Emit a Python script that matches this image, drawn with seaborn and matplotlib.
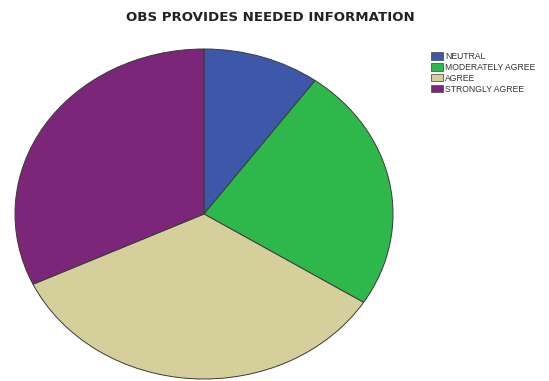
import matplotlib
matplotlib.use("Agg")
import matplotlib.pyplot as plt
import seaborn as sns
from matplotlib.patches import Patch

sns.set_style("white")
plt.rcParams['font.family'] = ['Liberation Sans', 'DejaVu Sans']

categories = ["NEUTRAL", "MODERATELY AGREE", "AGREE", "STRONGLY AGREE"]
counts = [5, 12, 17, 16]
colors = ["#3e58a9", "#2eb84b", "#d4cf9b", "#7b2678"]
title = "OBS PROVIDES NEEDED INFORMATION"

fig = plt.figure(figsize=(5.49, 3.81), dpi=100)
W, H = 549, 381
ax = fig.add_axes([15 / W, (H - 379) / H, 378 / W, 330 / H])
ax.pie(counts, colors=colors, startangle=90, counterclock=False,
       radius=1.0, wedgeprops=dict(edgecolor="#3a3a3a", linewidth=0.7))
ax.set_aspect("auto")
ax.set_xlim(-1.0, 1.0)
ax.set_ylim(-1.0, 1.0)
ax.axis("off")

fig.text(270 / W, 1 - 17.5 / H, title, ha="center", va="center",
         fontsize=9.6, fontweight="bold", color="#222222",
         family=["DejaVu Sans"])

handles = [Patch(facecolor=c, edgecolor="#555555", linewidth=0.6) for c in colors]
fig.legend(handles, categories, loc="upper left",
           bbox_to_anchor=(425 / W, 1 - 46 / H), frameon=False,
           fontsize=6.2, handlelength=1.4, handleheight=0.9,
           handletextpad=0.25, labelspacing=0.22, borderpad=0.2,
           labelcolor="#333333")

fig.savefig("out.png", dpi=100, facecolor="white")
